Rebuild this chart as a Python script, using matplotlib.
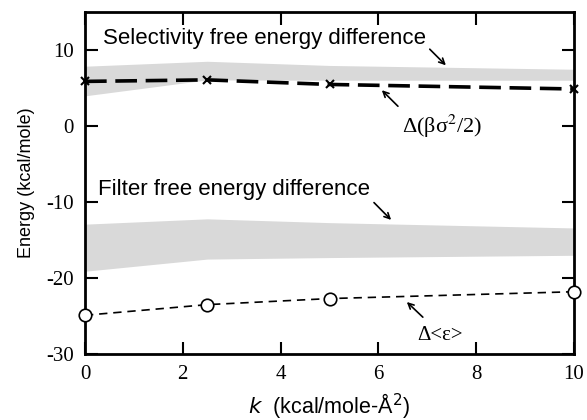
import matplotlib
matplotlib.use("Agg")
import matplotlib.pyplot as plt

k = [0, 2.5, 5, 10]
sel_line = [5.9, 6.1, 5.5, 4.9]
sel_band_low = [4.0, 6.1, 6.05, 6.05]
sel_band_high = [7.9, 8.55, 8.0, 7.5]
fil_band_low = [-19.1, -17.5, -17.3, -17.0]
fil_band_high = [-12.9, -12.2, -12.7, -13.4]
eps_line = [-24.9, -23.5, -22.7, -21.8]
xticks = [0, 2, 4, 6, 8, 10]
yticks = [-30, -20, -10, 0, 10]
ytick_labels = ["-30", "-20", "-10", "0", "10"]

fig = plt.figure(figsize=(5.87, 4.2), dpi=100)
ax = fig.add_axes([85/587, 1-354/420, (574-85)/587, (354-12.3)/420])

ax.fill_between(k, sel_band_low, sel_band_high, color="#d9d9d9", lw=0, zorder=1)
ax.fill_between(k, fil_band_low, fil_band_high, color="#d9d9d9", lw=0, zorder=1)
ax.plot(k, sel_line, color="black", lw=2.6, dashes=(6, 2.4), marker="x", ms=6,
        mew=1.5, clip_on=False, zorder=3)
ax.plot(k, eps_line, color="black", lw=1.2, dashes=(5, 3.5), marker="o", ms=9,
        mfc="white", mec="black", mew=1.2, clip_on=False, zorder=3)

ax.set_xlim(0, 10)
ax.set_ylim(-30, 15)
ax.set_xticks(xticks)
ax.set_yticks(yticks)
ax.set_yticklabels(ytick_labels)
ax.tick_params(direction="in", length=9, width=1.5, top=True, right=True,
               labelsize=15, pad=8)
for lab in ax.get_xticklabels() + ax.get_yticklabels():
    lab.set_fontfamily("Liberation Serif")
for s in ax.spines.values():
    s.set_linewidth(2)

sans = "Liberation Sans"
serif = "Liberation Serif"
ax.set_ylabel("Energy (kcal/mole)", fontsize=13, fontfamily=sans, labelpad=8)
ax.set_xlabel(r"$k$  (kcal/mole-Å$^2$)", fontsize=15.5, fontfamily=sans, labelpad=5)

ax.text(0.37, 11.6, "Selectivity free energy difference", fontsize=16,
        fontfamily=sans, va="center", ha="left")
ax.annotate("", xy=(7.42, 7.76), xytext=(7.01, 10.4),
            arrowprops=dict(arrowstyle="->", lw=1.2, color="black"))
ax.text(7.3, 0.0, r"Δ(βσ$^2$/2)", fontsize=16, fontfamily=serif, va="center",
        ha="center", math_fontfamily="stix")
ax.annotate("", xy=(6.03, 5.0), xytext=(6.44, 2.37),
            arrowprops=dict(arrowstyle="->", lw=1.2, color="black"))

ax.text(0.27, -8.3, "Filter free energy difference", fontsize=16,
        fontfamily=sans, va="center", ha="left")
ax.annotate("", xy=(6.3, -12.6), xytext=(5.87, -9.8),
            arrowprops=dict(arrowstyle="->", lw=1.2, color="black"))
ax.text(7.26, -27.6, "Δ<ε>", fontsize=15, fontfamily=serif, va="center", ha="center")
ax.annotate("", xy=(6.54, -22.9), xytext=(6.95, -25.4),
            arrowprops=dict(arrowstyle="->", lw=1.2, color="black"))

fig.savefig("out.png", dpi=100)
